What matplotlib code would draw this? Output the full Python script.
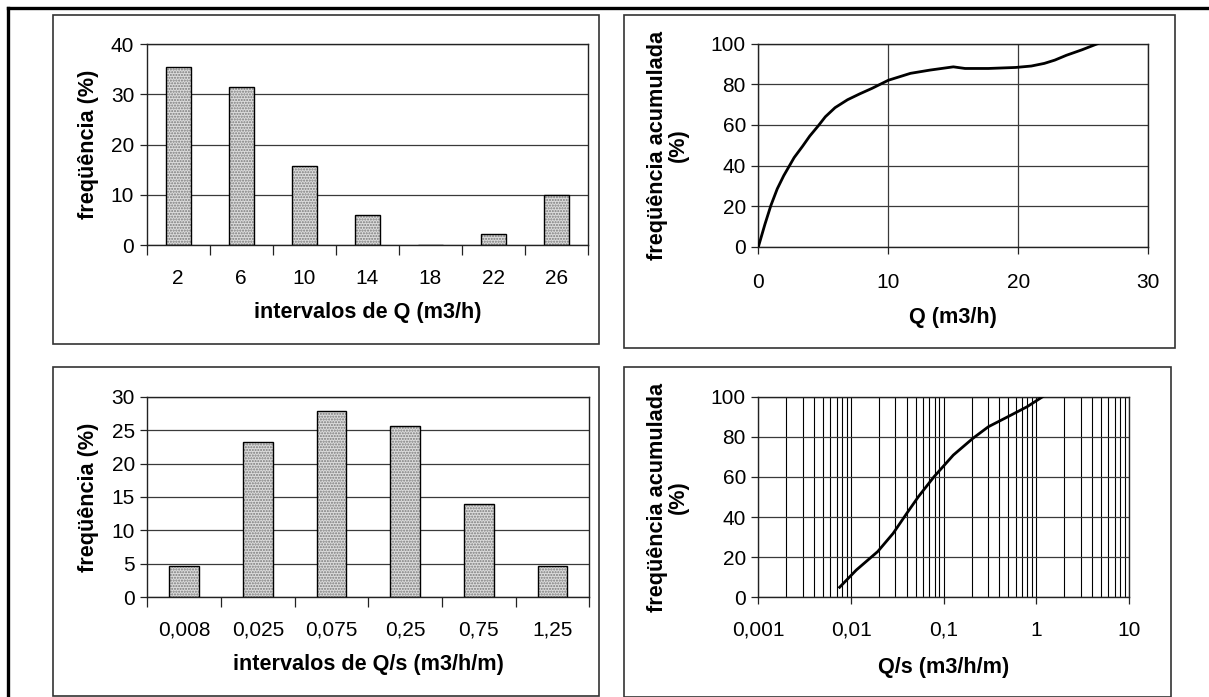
"""Four-panel chart: Q and Q/s frequency histograms + cumulative curves."""
import numpy as np
import matplotlib
matplotlib.use("Agg")
import matplotlib.pyplot as plt
from matplotlib.lines import Line2D
from matplotlib.patches import Rectangle

plt.rcParams['font.family'] = ['Liberation Sans', 'DejaVu Sans']

# --- data -------------------------------------------------------------
q_cats = ["2", "6", "10", "14", "18", "22", "26"]
q_freq = [35.4, 31.5, 15.8, 5.9, 0.0, 2.1, 9.9]

q_cum_x = [0, 0.5, 0.96, 1.45, 1.95, 2.75, 3.4, 3.95, 4.6, 5.15, 5.9, 6.86,
           7.8, 8.74, 10.0, 11.7, 13.2, 15.0, 15.9, 17.7, 19.8, 21.0, 22.0,
           22.8, 23.7, 24.9, 26.1]
q_cum_y = [0, 11.0, 20.3, 28.5, 35.0, 43.9, 49.5, 54.5, 59.5, 64.0, 68.5,
           72.4, 75.3, 78.0, 82.0, 85.4, 87.0, 88.6, 87.8, 87.8, 88.3, 89.0,
           90.3, 91.9, 94.3, 97.0, 100]

qs_cats = ["0,008", "0,025", "0,075", "0,25", "0,75", "1,25"]
qs_freq = [4.7, 23.3, 27.9, 25.6, 14.0, 4.7]

qs_cum_x = [0.00752, 0.0114, 0.0194, 0.0285, 0.040, 0.0534, 0.0786, 0.127,
            0.206, 0.303, 0.492, 0.795, 1.17]
qs_cum_y = [5.0, 13.6, 22.8, 31.9, 41.9, 50.2, 60.1, 70.9, 79.2, 85.0,
            90.0, 95.0, 100]

log_ticks = [0.001, 0.01, 0.1, 1, 10]
log_labels = ["0,001", "0,01", "0,1", "1", "10"]

W, H = 1209, 697
FS = 15
LFS = 15.6
fig = plt.figure(figsize=(W / 100, H / 100), dpi=100)


def px_axes(l, r, t, b):
    return fig.add_axes([l / W, 1 - b / H, (r - l) / W, (b - t) / H])


def px_box(l, r, t, b, lw=1.2, color="#333333"):
    fig.add_artist(Rectangle((l / W, 1 - b / H), (r - l) / W, (b - t) / H,
                             transform=fig.transFigure, fill=False,
                             lw=lw, edgecolor=color))


def style(ax):
    for s in ax.spines.values():
        s.set_color("#222222"); s.set_linewidth(1.0)
    ax.tick_params(axis="both", labelsize=FS, direction="out", length=5,
                   width=0.9, color="#222222")
    ax.tick_params(axis="y", pad=4)
    ax.set_axisbelow(True)


def bars(ax, cats, vals, ymax, ystep):
    x = np.arange(len(cats))
    ax.bar(x, vals, width=0.4, color="#dcdcdc", edgecolor="#7a7a7a",
           hatch="......", lw=0, zorder=2)
    ax.bar(x, vals, width=0.4, fill=False, edgecolor="black", lw=1.0, zorder=3)
    ax.set_xlim(-0.5, len(cats) - 0.5)
    ax.set_ylim(0, ymax)
    ax.set_yticks(np.arange(0, ymax + 0.1, ystep))
    ax.set_xticks(x)
    ax.set_xticklabels(cats)
    ax.set_xticks(np.arange(-0.5, len(cats)), minor=True)
    ax.tick_params(axis="x", which="major", length=0, pad=17)
    ax.tick_params(axis="x", which="minor", length=7, width=0.9, color="#222222")
    ax.grid(axis="y", color="#3a3a3a", lw=0.9)
    ax.set_ylabel("freqüência (%)", fontsize=LFS, fontweight="bold")


# --- outer frame and panel boxes ------------------------------------------
fig.add_artist(Line2D([8 / W, 1], [1 - 8 / H, 1 - 8 / H], transform=fig.transFigure,
                      color="black", lw=2.4))
fig.add_artist(Line2D([8 / W, 8 / W], [0, 1 - 8 / H], transform=fig.transFigure,
                      color="black", lw=2.4))
px_box(53, 599, 15, 344)
px_box(624, 1175, 15, 348)
px_box(53, 599, 367, 696)
px_box(624, 1171, 367, 697)

# --- top left: histogram Q ----------------------------------------------------
ax1 = px_axes(146.7, 588, 44, 245)
style(ax1)
bars(ax1, q_cats, q_freq, 40, 10)
ax1.set_xlabel("intervalos de Q (m3/h)", fontsize=LFS, fontweight="bold")
ax1.xaxis.set_label_coords(0.5, -0.338); ax1.xaxis.label.set_va("center")
ax1.yaxis.set_label_coords(-0.133, 0.5); ax1.yaxis.label.set_va("center")

# --- top right: cumulative Q -----------------------------------------------
ax2 = px_axes(758.4, 1148.3, 43.7, 246.7)
style(ax2)
ax2.plot(q_cum_x, q_cum_y, color="black", lw=2.0, zorder=3,
         solid_joinstyle="round")
ax2.set_xlim(0, 30); ax2.set_ylim(0, 100)
ax2.set_xticks([0, 10, 20, 30]); ax2.set_yticks(np.arange(0, 101, 20))
ax2.tick_params(axis="x", pad=14)
ax2.grid(color="#3a3a3a", lw=0.9)
ax2.set_xlabel("Q (m3/h)", fontsize=LFS, fontweight="bold")
ax2.set_ylabel("freqüência acumulada\n(%)", fontsize=LFS, fontweight="bold",
               linespacing=1.05)
ax2.xaxis.set_label_coords(0.5, -0.351); ax2.xaxis.label.set_va("center")
ax2.yaxis.set_label_coords(-0.232, 0.5); ax2.yaxis.label.set_va("center")

# --- bottom left: histogram Q/s ---------------------------------------------
ax3 = px_axes(147.3, 589.4, 396.7, 597.3)
style(ax3)
bars(ax3, qs_cats, qs_freq, 30, 5)
ax3.set_xlabel("intervalos de Q/s (m3/h/m)", fontsize=LFS, fontweight="bold")
ax3.xaxis.set_label_coords(0.5, -0.337); ax3.xaxis.label.set_va("center")
ax3.yaxis.set_label_coords(-0.134, 0.5); ax3.yaxis.label.set_va("center")

# --- bottom right: cumulative Q/s (log) ---------------------------------------
ax4 = px_axes(758.4, 1129, 396.7, 597.3)
style(ax4)
ax4.plot(qs_cum_x, qs_cum_y, color="black", lw=2.0, zorder=3,
         solid_joinstyle="round")
ax4.set_xscale("log")
ax4.set_xlim(0.001, 10); ax4.set_ylim(0, 100)
ax4.set_xticks(log_ticks); ax4.set_xticklabels(log_labels)
ax4.set_yticks(np.arange(0, 101, 20))
ax4.tick_params(axis="x", which="minor", length=0)
ax4.tick_params(axis="x", which="major", pad=12)
ax4.grid(axis="x", which="both", color="black", lw=0.8)
ax4.grid(axis="y", which="major", color="#3a3a3a", lw=0.9)
ax4.set_xlabel("Q/s (m3/h/m)", fontsize=LFS, fontweight="bold")
ax4.set_ylabel("freqüência acumulada\n(%)", fontsize=LFS, fontweight="bold",
               linespacing=1.05)
ax4.xaxis.set_label_coords(0.5, -0.35); ax4.xaxis.label.set_va("center")
ax4.yaxis.set_label_coords(-0.244, 0.5); ax4.yaxis.label.set_va("center")

fig.savefig("out.png", dpi=100)
plt.close(fig)
